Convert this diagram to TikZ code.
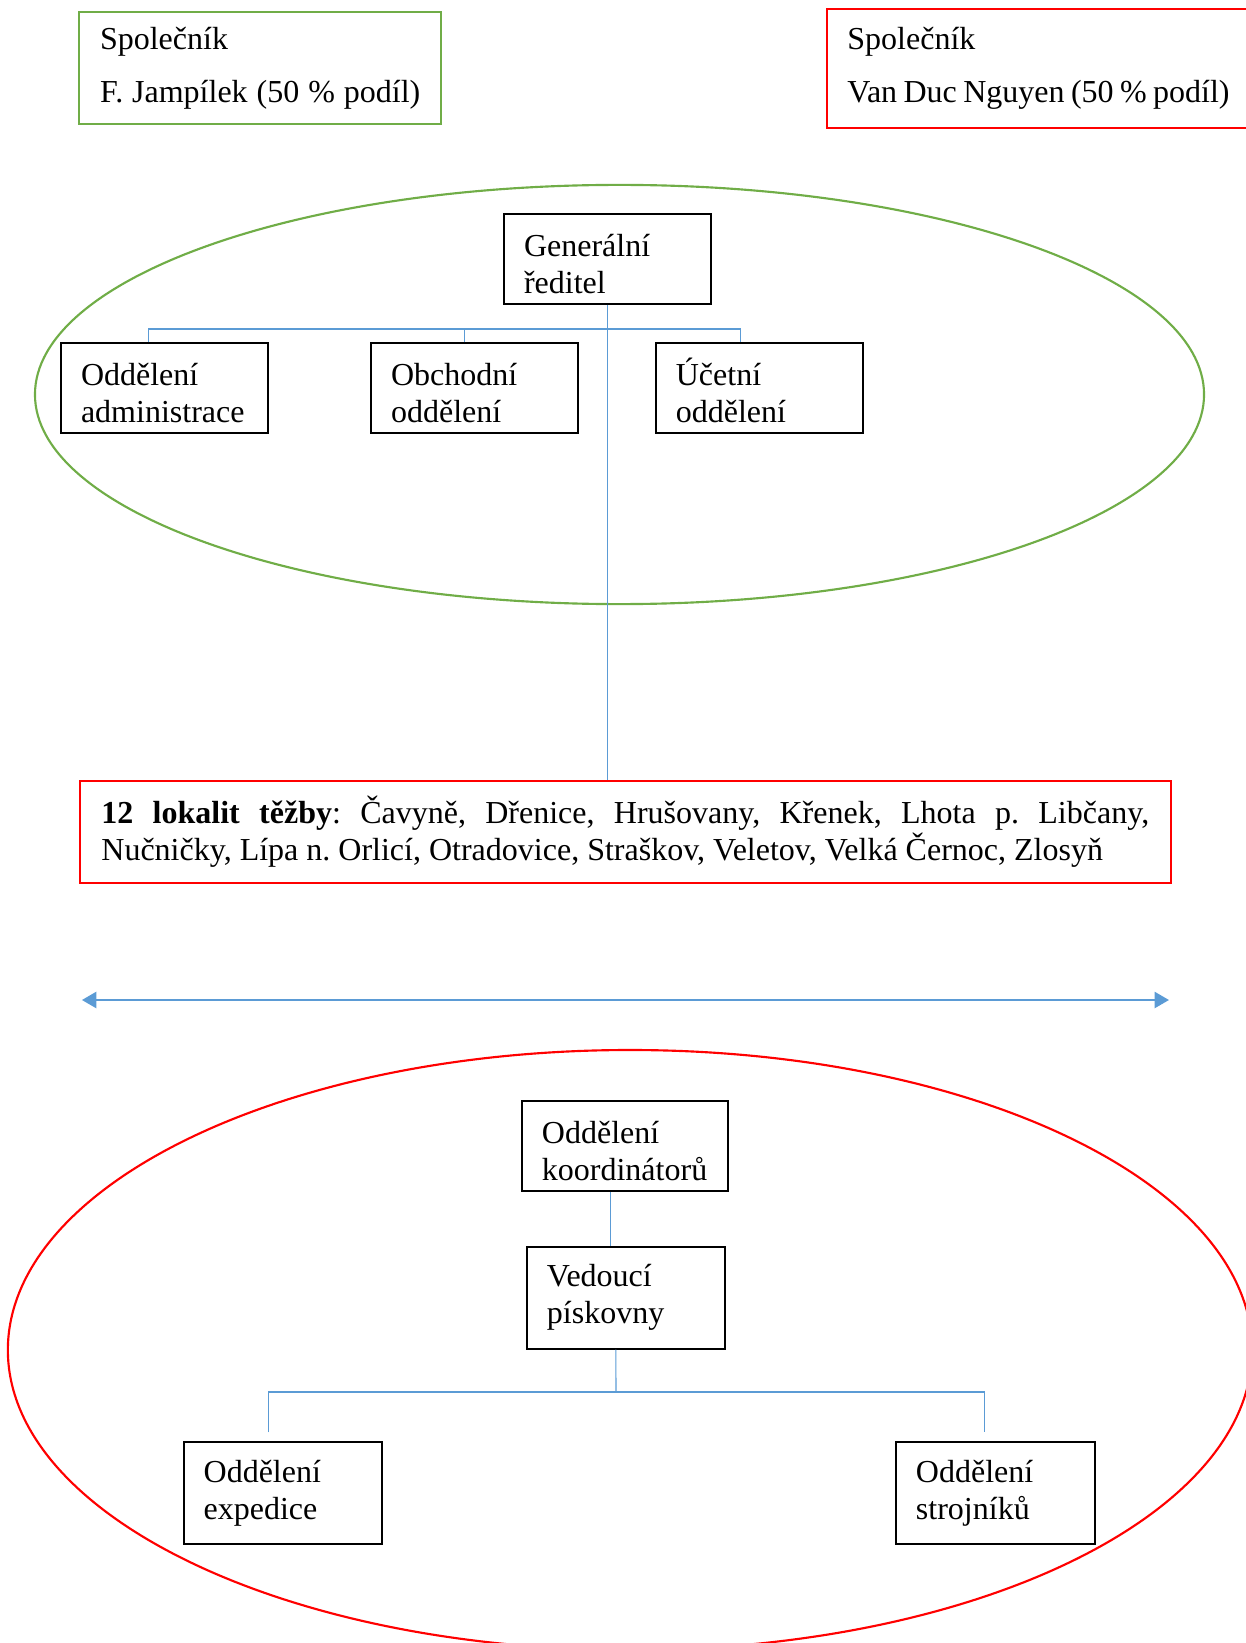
\documentclass[tikz,border=0pt]{standalone}
\usepackage{fontspec}
\setmainfont{Liberation Serif}
\usetikzlibrary{arrows.meta,calc}

\definecolor{ownerA}{HTML}{70AD47}
\definecolor{ownerB}{HTML}{FF0000}
\definecolor{link}{HTML}{5B9BD5}

\begin{document}
\frenchspacing
\begin{tikzpicture}[x=0.375pt,y=-0.375pt,>=Latex,
  font=\fontsize{12}{13.8}\selectfont,
  unitbox/.style={draw,line width=.75pt,align=left,inner xsep=7.5pt,inner ysep=0pt},
  unit/.style={unitbox,text width=62.6pt,minimum height=33.75pt,
    execute at begin node={\rule{0pt}{12pt}}},
  tallunit/.style={unitbox,text width=59.5pt,minimum height=38.25pt},
  owner/.style={draw=#1,line width=.75pt,align=left,inner xsep=7.8pt,inner ysep=0pt},
  conn/.style={link,line width=.4pt},
  zone/.style={line width=.8pt}]

% Page frame
\useasboundingbox (0,0) rectangle (1246,1643);
\clip (0,0) rectangle (1246,1643);

% Partners
\node[owner=ownerA,text width=120.2pt,minimum height=41.85pt] (ownA) at (260.3,68.2)
  {Společník\\[6.1pt]\mbox{\spaceskip=.28em F. Jampílek (50 \% podíl)}};
\node[owner=ownerB,text width=149.3pt,minimum height=44.55pt] (ownB) at (1046.5,68.4)
  {Společník\\[6.1pt]\mbox{\spaceskip=.2em Van Duc Nguyen (50 \% podíl)}};

% Head office (green)
\draw[zone,ownerA] (619.5,394.5) ellipse [x radius=219.2pt, y radius=78.6pt];

\node[unit] (gen)   at (607.5,259)   {Generální\\ředitel};
\node[unit] (admin) at (164.5,388.5) {Oddělení\\administrace};
\node[unit] (obch)  at (474.5,388.5) {Obchodní\\oddělení};
\node[unit] (ucet)  at (759.3,388.5) {Účetní\\oddělení};

% Sites
\node[owner=ownerB,align=justify,text width=392.9pt,inner xsep=8.1pt,minimum height=38.5pt]
  (lok) at (625.3,832)
  {\textbf{12 lokalit těžby}: Čavyně, Dřenice, Hrušovany, Křenek, Lhota p. Libčany,\linebreak
   Nučničky, Lípa n. Orlicí, Otradovice, Straškov, Veletov, Velká Černoc, Zlosyň};

% Links in the head office
\coordinate (bar) at (606.5,329);
\draw[conn] (gen.south) -- (gen.south |- lok.north);
\draw[conn] ([xshift=-6pt]admin.north) |- (bar) -| ([xshift=-6.9pt]ucet.north);
\draw[conn] ([xshift=-3.9pt]obch.north) -- ([xshift=-3.9pt]obch.north |- bar);

% Double arrow
\coordinate (arrL) at (81.9,1000);
\coordinate (arrR) at (1169,1000);
\draw[link,line width=.9pt,{Triangle[length=5.4pt,width=6pt]}-{Triangle[length=5.4pt,width=6pt]}]
  (arrL) -- (arrR);

% Sand pit (red)
\draw[zone,ownerB] (630,1350) ellipse [x radius=233.3pt, y radius=112.5pt];

\node[unit,text width=62.3pt] (koord) at (625,1145.8) {Oddělení\\koordinátorů};
\node[tallunit,text width=59.3pt] (ved) at (626,1297.6) {Vedoucí\\pískovny};
\node[tallunit] (exp)   at (283,1493)    {Oddělení\\expedice};
\node[tallunit] (stroj) at (995.3,1493)  {Oddělení\\strojníků};

% Links in the sand pit
\coordinate (fork) at (616,1392);
\draw[conn] ([xshift=-5.3pt]koord.south) -- ([xshift=-5.3pt]koord.south |- ved.north);
\draw[conn] ([xshift=-3.8pt]ved.south) -- (fork);
\draw[conn] ([xshift=-5.4pt,yshift=3.2pt]exp.north) |- (fork)
  -| ([xshift=-3.9pt,yshift=3.2pt]stroj.north);

\end{tikzpicture}
\end{document}
